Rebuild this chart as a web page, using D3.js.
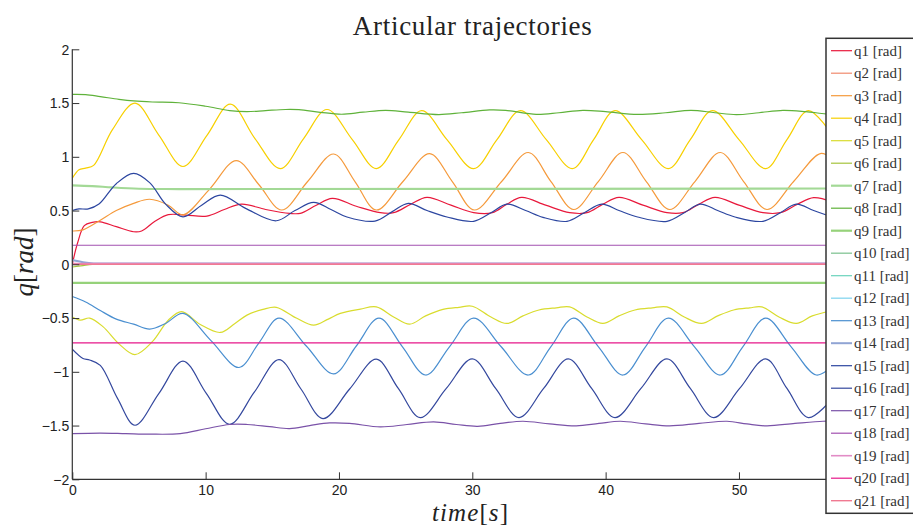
<!DOCTYPE html>
<html>
<head>
<meta charset="utf-8">
<script src="https://cdn.jsdelivr.net/npm/d3@7"></script>
<style>
html,body{margin:0;padding:0;background:#fff;}
svg{display:block;}
</style>
</head>
<body>
<svg id="chart" width="913" height="525"></svg>
<script>
// ---------- data ----------
const seriesNames = ["q1","q2","q3","q4","q5","q6","q7","q8","q9","q10","q11","q12","q13","q14","q15","q16","q17","q18","q19","q20","q21"];
const seriesColors = ["#e8193c","#f08a6c","#f59a3c","#f7d000","#d9dc2e","#a6c43c","#a3d996","#5fb23a","#96d27a","#8cc99c","#6ad3bc","#8ed8f0","#4a8fd0","#90a4d4","#2c46a0","#34489e","#7a52a8","#a250b0","#e28cc6","#e6178a","#f07a92"];
const seriesWidths = [1.2,1.2,1.2,1.2,1.2,1.2,2.2,1.2,2.2,1.4,1.2,1.4,1.2,2.0,1.2,1.2,1.2,1.2,1.6,1.2,1.4];

const q1 = [[0,0],[0.4,0.2],[0.9,0.36],[1.5,0.39],[2.1,0.395],[3.3,0.35],[4.6,0.303],[5.2,0.31],[6.2,0.40],[7.2,0.462],[8.5,0.458],[10.1,0.449],[11.4,0.51],[12.7,0.56],[14.5,0.51],[16.3,0.474],[17.1,0.474],[18.3,0.55],[19.5,0.613],[21.3,0.54],[23.1,0.48],[24.1,0.48],[25.4,0.56],[26.6,0.623],[28.4,0.55],[30.1,0.48],[31.5,0.48],[32.6,0.56],[33.7,0.623],[35.5,0.55],[37.3,0.48],[38.6,0.48],[39.8,0.56],[41.0,0.623],[42.8,0.55],[44.6,0.48],[45.8,0.48],[47.0,0.56],[48.2,0.623],[50.0,0.55],[51.8,0.48],[53.1,0.48],[54.4,0.56],[55.6,0.62],[57,0.58]];
const q2 = [[0,0],[57,0]];
const q3 = [[0,0.31],[0.8,0.32],[2.1,0.41],[3.3,0.50],[4.6,0.567],[5.8,0.605],[7.2,0.55],[8.3,0.46],[10.3,0.70],[12.3,0.965],[14.0,0.74],[15.7,0.505],[17.65,0.77],[19.6,1.026],[21.2,0.77],[22.8,0.505],[24.8,0.77],[26.8,1.03],[28.5,0.77],[30.15,0.505],[32.2,0.77],[34.2,1.04],[35.9,0.77],[37.6,0.51],[39.45,0.77],[41.3,1.04],[43.05,0.77],[44.8,0.51],[46.7,0.77],[48.6,1.04],[50.35,0.77],[52.1,0.51],[54.1,0.77],[56.1,1.03],[57,0.98]];
const q4 = [[0,0.80],[0.5,0.88],[1.0,0.895],[1.6,0.92],[3.0,1.25],[4.7,1.50],[6.5,1.2],[8.3,0.91],[10.1,1.2],[11.85,1.49],[13.7,1.17],[15.6,0.89],[17.35,1.17],[19.1,1.44],[21.0,1.16],[22.8,0.89],[24.5,1.16],[26.2,1.43],[28.1,1.16],[30.1,0.89],[31.85,1.16],[33.6,1.43],[35.55,1.16],[37.5,0.89],[39.1,1.16],[40.7,1.43],[42.7,1.16],[44.7,0.89],[46.35,1.16],[48.0,1.43],[50.0,1.16],[52.0,0.89],[53.6,1.16],[55.2,1.43],[57,1.2]];
const q5 = [[0,-0.49],[0.6,-0.52],[1.3,-0.50],[2.3,-0.58],[3.5,-0.74],[4.7,-0.84],[6.0,-0.72],[7.2,-0.52],[8.2,-0.44],[9.6,-0.56],[11.1,-0.634],[12.2,-0.55],[13.1,-0.473],[14.3,-0.42],[15.3,-0.40],[16.8,-0.50],[18.1,-0.566],[19.2,-0.51],[20.1,-0.457],[21.6,-0.417],[22.8,-0.396],[24.1,-0.49],[25.3,-0.557],[26.5,-0.48],[27.8,-0.42],[29.0,-0.40],[30.0,-0.39],[31.4,-0.49],[32.6,-0.55],[33.8,-0.48],[35.0,-0.425],[36.3,-0.405],[37.3,-0.396],[38.6,-0.49],[39.8,-0.55],[41.0,-0.48],[42.2,-0.425],[43.5,-0.405],[44.6,-0.396],[45.9,-0.49],[47.2,-0.55],[48.4,-0.48],[49.6,-0.425],[50.8,-0.405],[51.7,-0.396],[53.0,-0.49],[54.3,-0.55],[55.5,-0.48],[57,-0.43]];
const q6 = [[0,-0.025],[0.8,-0.012],[1.5,-0.002],[3,0],[57,0]];
const q7 = [[0,0.735],[1.5,0.728],[3,0.715],[5,0.703],[8,0.70],[57,0.705]];
const q8 = [[0,1.58],[1,1.578],[2.1,1.56],[3.5,1.535],[4.6,1.52],[6,1.51],[8,1.503],[10,1.47],[11.8,1.43],[13.1,1.42],[14.5,1.43],[16.0,1.44],[17.0,1.438],[18.6,1.414],[20.2,1.396],[21.8,1.415],[23.5,1.432],[25.2,1.415],[27.5,1.393],[29.2,1.41],[31.3,1.436],[32.5,1.432],[34.8,1.395],[36.5,1.41],[38.3,1.432],[40.0,1.42],[42.4,1.394],[44.5,1.41],[46.4,1.432],[48.2,1.41],[49.8,1.392],[51.5,1.41],[53.3,1.432],[55.0,1.42],[56.5,1.40],[57,1.40]];
const q9 = [[0,-0.172],[57,-0.172]];
const q10 = [[0,0],[57,0]];
const q11 = [[0,0],[57,0]];
const q12 = [[0,0],[57,0]];
const q13 = [[0,-0.30],[1.0,-0.35],[2.1,-0.43],[3.3,-0.51],[4.6,-0.557],[5.8,-0.603],[7.0,-0.55],[8.3,-0.457],[10.4,-0.71],[12.5,-0.96],[14.0,-0.73],[15.5,-0.50],[17.55,-0.76],[19.6,-1.02],[21.3,-0.76],[23.0,-0.50],[24.75,-0.765],[26.5,-1.03],[28.3,-0.765],[30.1,-0.50],[32.15,-0.765],[34.2,-1.03],[35.9,-0.765],[37.6,-0.50],[39.45,-0.765],[41.3,-1.03],[43.0,-0.765],[44.7,-0.50],[46.65,-0.765],[48.6,-1.03],[50.3,-0.765],[52.0,-0.50],[53.9,-0.765],[55.8,-1.03],[57,-0.95]];
const q14 = [[0,0.04],[0.8,0.02],[1.6,0.008],[3,0.008],[57,0.008]];
const q15 = [[0,0.50],[0.5,0.515],[1.2,0.515],[2.0,0.56],[3.3,0.75],[4.6,0.846],[5.8,0.76],[7.0,0.56],[8.3,0.442],[9.7,0.55],[11.1,0.644],[13.0,0.52],[15.3,0.405],[16.7,0.50],[18.1,0.576],[19.4,0.51],[20.6,0.44],[22.7,0.402],[24.0,0.49],[25.2,0.567],[26.6,0.50],[28.1,0.44],[30.1,0.40],[31.4,0.48],[32.6,0.56],[34.0,0.50],[35.3,0.437],[37.1,0.40],[38.4,0.48],[39.7,0.56],[41.0,0.50],[42.4,0.44],[44.6,0.40],[45.9,0.48],[47.1,0.56],[48.4,0.50],[49.7,0.44],[51.8,0.40],[53.1,0.48],[54.3,0.56],[55.6,0.50],[57,0.44]];
const q16 = [[0,-0.79],[0.8,-0.876],[1.3,-0.89],[2.1,-0.94],[3.4,-1.25],[4.7,-1.497],[6.5,-1.2],[8.3,-0.90],[10.05,-1.2],[11.8,-1.488],[13.65,-1.19],[15.5,-0.886],[17.15,-1.16],[18.8,-1.435],[20.8,-1.16],[22.8,-0.883],[24.45,-1.155],[26.1,-1.426],[28.05,-1.155],[30.0,-0.88],[31.75,-1.155],[33.5,-1.426],[35.35,-1.155],[37.2,-0.88],[38.95,-1.155],[40.7,-1.426],[42.65,-1.155],[44.6,-0.88],[46.35,-1.155],[48.1,-1.426],[50.05,-1.155],[52.0,-0.88],[53.6,-1.155],[55.2,-1.426],[57,-1.25]];
const q17 = [[0,-1.575],[2.1,-1.57],[4,-1.575],[5.8,-1.58],[8.1,-1.575],[10,-1.53],[11.8,-1.49],[13.1,-1.49],[14.8,-1.51],[16.3,-1.528],[17.8,-1.50],[19.3,-1.476],[20.8,-1.48],[23.1,-1.513],[25.1,-1.49],[27.1,-1.466],[28.8,-1.49],[30.4,-1.507],[32.1,-1.48],[33.8,-1.46],[35.8,-1.485],[37.8,-1.503],[39.5,-1.48],[41.1,-1.46],[43.0,-1.485],[44.8,-1.503],[47.0,-1.48],[49.1,-1.46],[50.6,-1.485],[52.1,-1.503],[54.2,-1.48],[56.3,-1.46],[57,-1.46]];
const q18 = [[0,0.177],[57,0.177]];
const q19 = [[0,0.008],[57,0.008]];
const q20 = [[0,-0.73],[57,-0.73]];
const q21 = [[0,0.001],[57,0.001]];
const seriesData = [q1,q2,q3,q4,q5,q6,q7,q8,q9,q10,q11,q12,q13,q14,q15,q16,q17,q18,q19,q20,q21];

const xTicks = [0,10,20,30,40,50];
const yTicks = [-2,-1.5,-1,-0.5,0,0.5,1,1.5,2];
const titleText = "Articular trajectories";
const unitText = "[rad]";

// ---------- layout ----------
const svg = d3.select("#chart");
const pLeft = 72.3, pRight = 872.3, pTop = 49.3, pBottom = 479.3;
const x = d3.scaleLinear().domain([0,60]).range([pLeft,pRight]);
const y = d3.scaleLinear().domain([-2,2]).range([pBottom,pTop]);
const axisColor = "#333";
const tickFont = "'Liberation Sans', Arial, Helvetica, sans-serif";
const serif = "'Liberation Serif', 'Times New Roman', serif";

svg.append("defs").append("clipPath").attr("id","plotclip")
  .append("rect").attr("x",pLeft).attr("y",pTop).attr("width",pRight-pLeft).attr("height",pBottom-pTop);

// lines
const line = d3.line().x(d=>x(d[0])).y(d=>y(d[1])).curve(d3.curveCatmullRom.alpha(0.5));
const gLines = svg.append("g").attr("clip-path","url(#plotclip)");
seriesData.forEach((s,i)=>{
  gLines.append("path").attr("d",line(s)).attr("fill","none")
    .attr("stroke",seriesColors[i]).attr("stroke-width",seriesWidths[i])
    .attr("stroke-linejoin","round");
});

// axes
const xAxis = d3.axisBottom(x).tickValues(xTicks).tickSize(-7).tickPadding(10).tickFormat(d3.format("d"));
const yAxis = d3.axisLeft(y).tickValues(yTicks).tickSize(-7).tickPadding(10)
  .tickFormat(d => (d<0?"\u2212":"") + d3.format("")(Math.abs(d)));

const gx = svg.append("g").attr("transform",`translate(0,${pBottom})`).call(xAxis);
const gy = svg.append("g").attr("transform",`translate(${pLeft},0)`).call(yAxis);
gx.select(".domain").attr("d",`M${pLeft},0H${pRight}`);
gy.select(".domain").attr("d",`M0,${pTop}V${pBottom}`);
[gx,gy].forEach(g=>{
  g.select(".domain").attr("stroke",axisColor).attr("stroke-width",1.2);
  g.selectAll(".tick line").attr("stroke",axisColor).attr("stroke-width",1);
  g.selectAll(".tick text").attr("fill","#222").style("font-family",tickFont).style("font-size","14px");
});
gy.selectAll(".tick text").attr("x",-3).attr("dy","0.35em");
gx.selectAll(".tick text").attr("y",15.5).attr("dy","0");

// title
svg.append("text").attr("x",472.3).attr("y",35).attr("text-anchor","middle")
  .attr("textLength",239).attr("lengthAdjust","spacing")
  .style("font-family",serif).style("font-size","27px").attr("fill","#222").text(titleText);

// x label: time[s]
const xl = svg.append("text").attr("x",470).attr("y",520.5).attr("text-anchor","middle")
  .attr("textLength",76).attr("lengthAdjust","spacing")
  .style("font-family",serif).style("font-size","25px").attr("fill","#222");
xl.append("tspan").style("font-style","italic").text("time");
xl.append("tspan").text("[");
xl.append("tspan").style("font-style","italic").text("s");
xl.append("tspan").text("]");

// y label: q[rad]
const yl = svg.append("text").attr("transform","translate(33,262) rotate(-90)").attr("text-anchor","middle")
  .style("font-family",serif).style("font-size","27px").attr("fill","#222");
yl.append("tspan").style("font-style","italic").text("q");
yl.append("tspan").text("[");
yl.append("tspan").style("font-style","italic").text("rad");
yl.append("tspan").text("]");

// legend
const lg = svg.append("g");
lg.append("rect").attr("x",826).attr("y",38.3).attr("width",120).attr("height",475)
  .attr("fill","#fff").attr("stroke","#333").attr("stroke-width",1.5);
seriesNames.forEach((n,i)=>{
  const yy = 50.7 + i*22.5;
  lg.append("line").attr("x1",831).attr("x2",852).attr("y1",yy).attr("y2",yy)
    .attr("stroke",seriesColors[i]).attr("stroke-width",seriesWidths[i]);
  lg.append("text").attr("x",854).attr("y",yy).attr("dy","0.33em")
    .style("font-family",serif).style("font-size","15px").attr("fill","#333")
    .text(n + " " + unitText);
});
</script>
</body>
</html>
